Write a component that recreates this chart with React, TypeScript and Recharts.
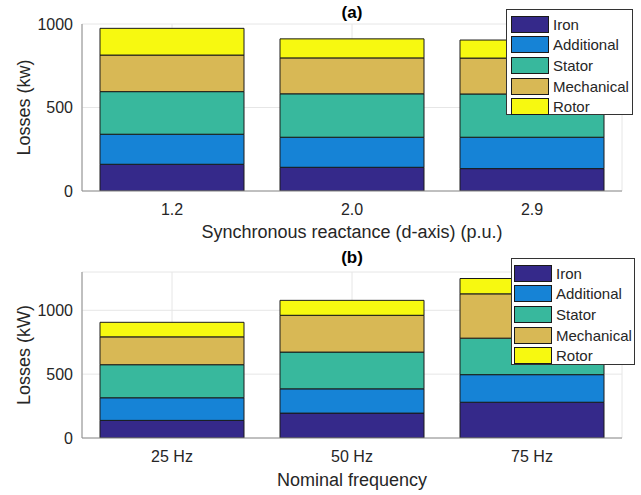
import React from "react";
import {
  BarChart,
  Bar,
  XAxis,
  YAxis,
  CartesianGrid,
  Legend,
  Label,
} from "recharts";

// (a) losses vs synchronous reactance
const reactance = ["1.2", "2.0", "2.9"];
const ironA = [160, 142, 134];
const additionalA = [180, 180, 188];
const statorA = [255, 260, 259];
const mechanicalA = [219, 215, 215];
const rotorA = [160, 114, 108];

// (b) losses vs nominal frequency
const frequency = ["25 Hz", "50 Hz", "75 Hz"];
const ironB = [138, 195, 280];
const additionalB = [177, 190, 216];
const statorB = [259, 288, 286];
const mechanicalB = [218, 288, 347];
const rotorB = [114, 117, 120];

const yTicks = [0, 500, 1000];

const series = [
  { key: "iron", name: "Iron", color: "#35298a" },
  { key: "additional", name: "Additional", color: "#1683d6" },
  { key: "stator", name: "Stator", color: "#38b89d" },
  { key: "mechanical", name: "Mechanical", color: "#d8b855" },
  { key: "rotor", name: "Rotor", color: "#f7f910" },
];

const FONT = '"Liberation Sans", Arial, Helvetica, sans-serif';
const TEXT = "#262626";
const BOX = "#8c8c8c";

function buildRows(cats: string[], cols: number[][]) {
  return cats.map((c, i) => ({
    cat: c,
    iron: cols[0][i],
    additional: cols[1][i],
    stator: cols[2][i],
    mechanical: cols[3][i],
    rotor: cols[4][i],
  }));
}

function LegendBox({ padLeft }: { padLeft: number }) {
  return (
    <div
      style={{
        boxSizing: "border-box",
        width: "100%",
        height: "100%",
        border: "1px solid #333",
        background: "#fff",
        paddingTop: 4,
        paddingLeft: padLeft,
        fontFamily: FONT,
        fontSize: 15,
        color: TEXT,
      }}
    >
      {series.map((s) => (
        <div
          key={s.key}
          style={{ display: "flex", alignItems: "center", height: 20.6 }}
        >
          <div
            style={{
              boxSizing: "border-box",
              width: 38,
              height: 17,
              background: s.color,
              border: "1px solid #1a1a1a",
              marginRight: 4,
            }}
          />
          <span>{s.name}</span>
        </div>
      ))}
    </div>
  );
}

// y tick drawn by hand so the label never gets re-flowed
function YTick({ x, y, payload }: any) {
  return (
    <text
      x={x}
      y={y}
      textAnchor="end"
      dominantBaseline="central"
      fill={TEXT}
      fontSize={16}
      fontFamily={FONT}
    >
      {payload.value}
    </text>
  );
}

interface PanelProps {
  data: any[];
  height: number;
  top: number;
  bottom: number;
  ymax: number;
  title: string;
  xLabel: string;
  yLabel: string;
  legend: { left: number; top: number; width: number; height: number; pad: number };
  labelGap: number;
}

function Panel({ data, height, top, bottom, ymax, title, xLabel, yLabel, legend, labelGap }: PanelProps) {
  return (
    <div style={{ position: "relative", width: 641, height }}>
      <BarChart
        width={641}
        height={height}
        data={data}
        margin={{ top, right: 19, bottom, left: 0 }}
        barCategoryGap="10%"
      >
        <CartesianGrid stroke="#e6e6e6" />
        <XAxis
          dataKey="cat"
          height={30}
          stroke={BOX}
          tickLine={false}
          tickSize={0}
          tickMargin={13}
          tick={{ fill: TEXT, fontSize: 16, fontFamily: FONT }}
        >
          <Label
            value={xLabel}
            position="bottom"
            offset={labelGap}
            style={{ fill: TEXT, fontSize: 18, fontFamily: FONT }}
          />
        </XAxis>
        <XAxis
          xAxisId="top"
          dataKey="cat"
          orientation="top"
          height={0}
          mirror
          stroke={BOX}
          tick={false}
          tickLine={{ stroke: TEXT }}
          tickSize={4}
        />
        <YAxis
          width={82}
          domain={[0, ymax]}
          ticks={yTicks}
          allowDataOverflow
          stroke={BOX}
          tickLine={false}
          tickSize={0}
          tickMargin={9}
          tick={<YTick />}
          label={({ viewBox }: any) => (
            <text
              x={23.5}
              y={viewBox.y + viewBox.height / 2}
              transform={`rotate(-90, 23.5, ${viewBox.y + viewBox.height / 2})`}
              textAnchor="middle"
              dominantBaseline="central"
              fill={TEXT}
              fontSize={18}
              fontFamily={FONT}
            >
              {yLabel}
            </text>
          )}
        />
        <YAxis
          yAxisId="right"
          orientation="right"
          width={0}
          mirror
          domain={[0, ymax]}
          ticks={yTicks}
          stroke={BOX}
          tick={false}
          tickLine={{ stroke: TEXT }}
          tickSize={4}
        />
        {series.map((s) => (
          <Bar
            key={s.key}
            dataKey={s.key}
            name={s.name}
            stackId="loss"
            fill={s.color}
            stroke="#1a1a1a"
            strokeWidth={1}
            isAnimationActive={false}
          />
        ))}
        <Legend
          layout="horizontal"
          align="center"
          verticalAlign="middle"
          wrapperStyle={{
            left: legend.left,
            top: legend.top,
            width: legend.width,
            height: legend.height,
          }}
          content={() => <LegendBox padLeft={legend.pad} />}
        />
      </BarChart>
      <div
        style={{
          position: "absolute",
          left: 302,
          width: 100,
          top: 4,
          textAlign: "center",
          fontFamily: FONT,
          fontSize: 17,
          fontWeight: "bold",
          lineHeight: "17px",
          color: "#000",
        }}
      >
        {title}
      </div>
    </div>
  );
}

export default function App() {
  const dataA = buildRows(reactance, [ironA, additionalA, statorA, mechanicalA, rotorA]);
  const dataB = buildRows(frequency, [ironB, additionalB, statorB, mechanicalB, rotorB]);
  return (
    <div
      style={{
        position: "absolute",
        left: 0,
        top: 0,
        width: 641,
        height: 495,
        background: "#fff",
        fontFamily: FONT,
      }}
    >
      <div style={{ position: "absolute", left: 0, top: 0 }}>
        <Panel
          data={dataA}
          height={245}
          top={24}
          bottom={24}
          ymax={1000}
          title="(a)"
          xLabel="Synchronous reactance (d-axis) (p.u.)"
          yLabel="Losses (kw)"
          legend={{ left: 506, top: 9, width: 127, height: 106, pad: 4 }}
          labelGap={4}
        />
      </div>
      <div style={{ position: "absolute", left: 0, top: 245 }}>
        <Panel
          data={dataB}
          height={250}
          top={27}
          bottom={27}
          ymax={1300}
          title="(b)"
          xLabel="Nominal frequency"
          yLabel="Losses (kW)"
          legend={{ left: 511, top: 13, width: 124, height: 107, pad: 2 }}
          labelGap={5}
        />
      </div>
    </div>
  );
}
